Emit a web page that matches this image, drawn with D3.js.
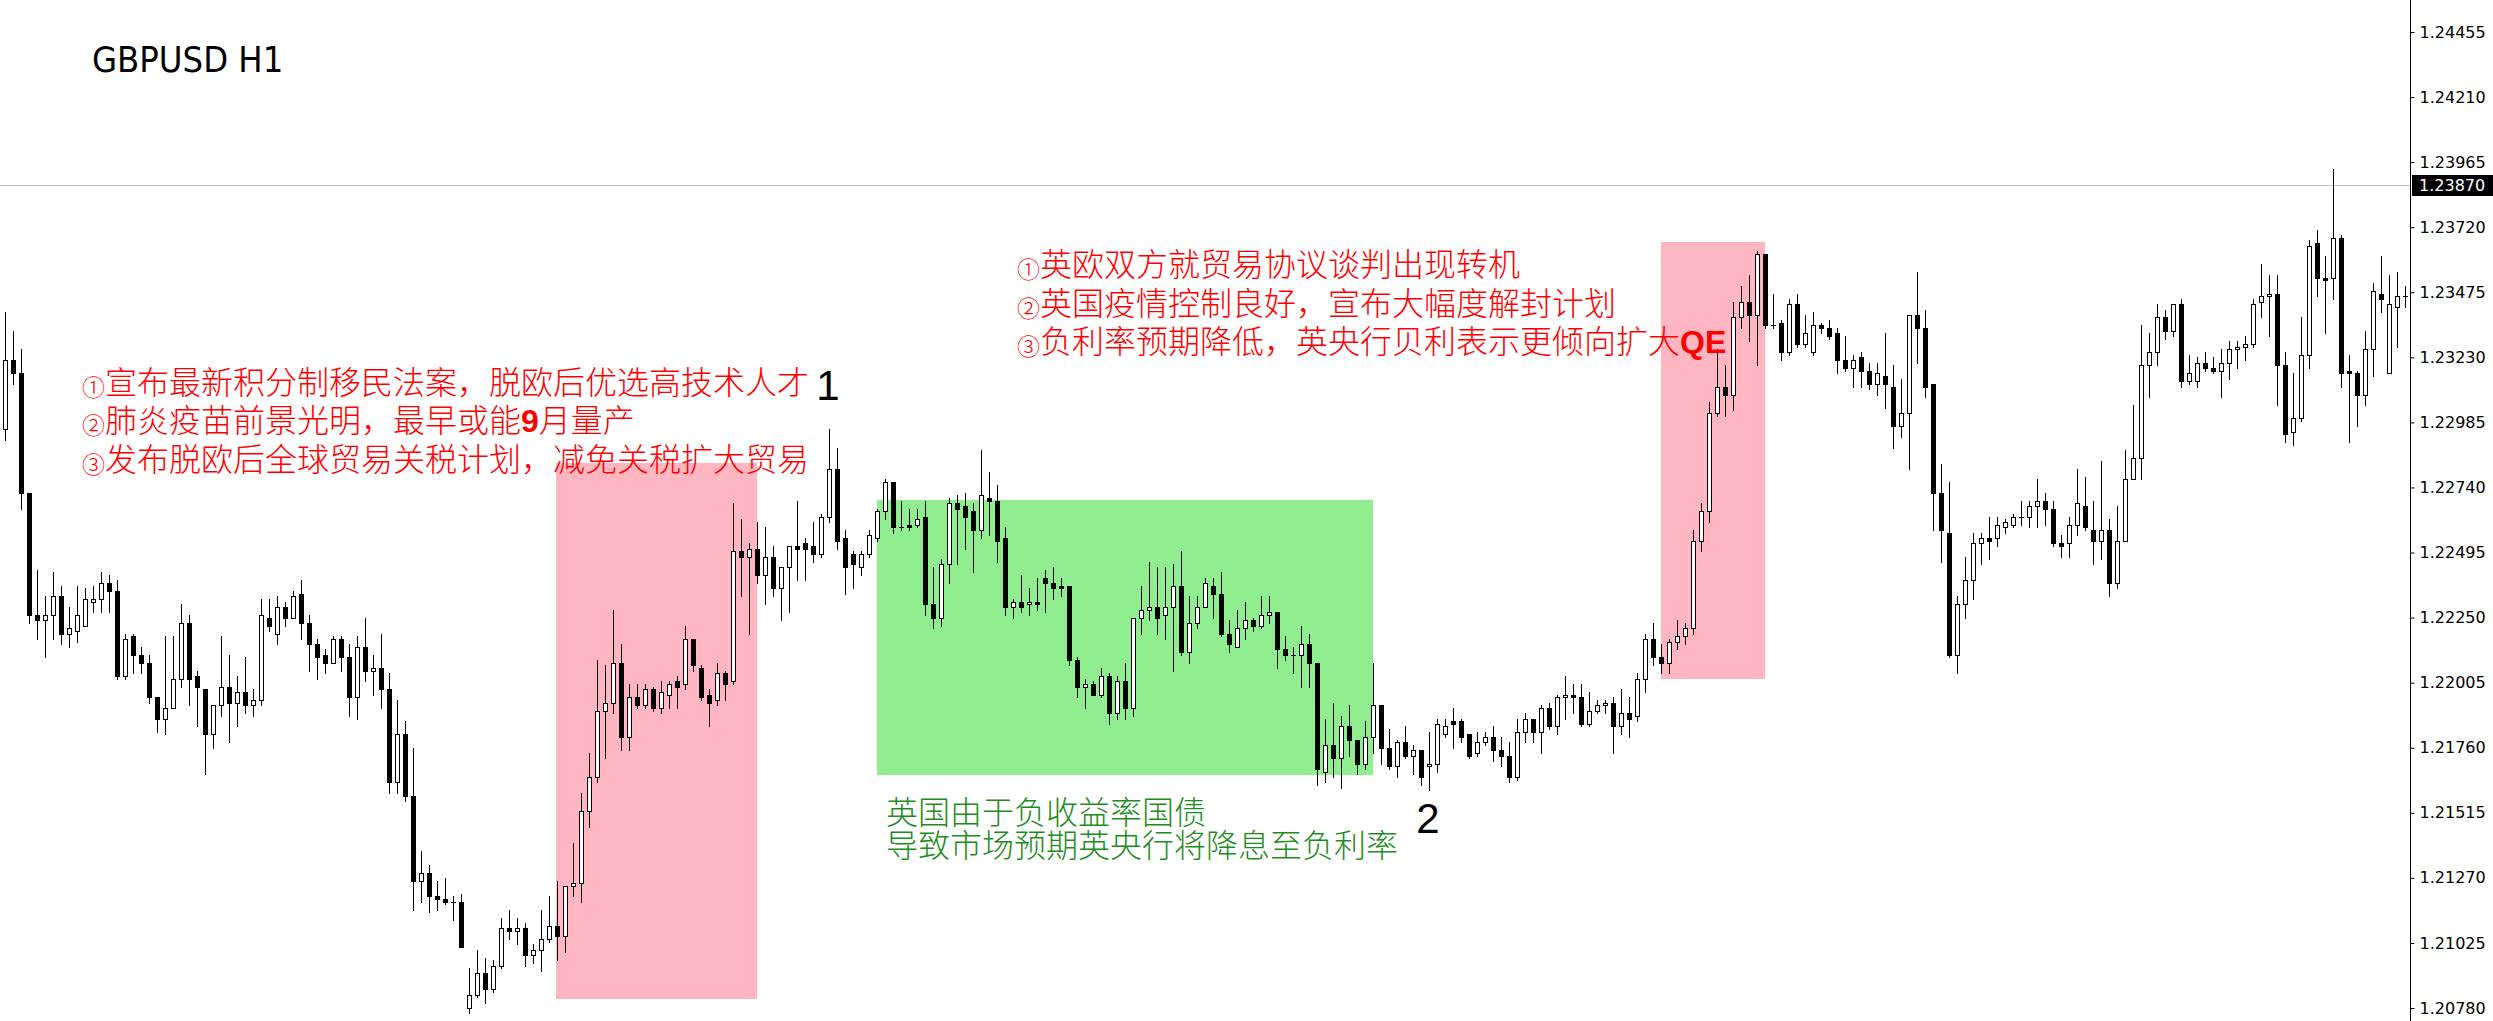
<!DOCTYPE html>
<html><head><meta charset="utf-8">
<script src="https://cdn.jsdelivr.net/npm/d3@7"></script>
<style>html,body{margin:0;padding:0;background:#fff;overflow:hidden}</style>
</head><body>
<svg id="chart" width="2493" height="1021"></svg>
<script>
// ---------- DATA (GBPUSD H1) ----------
const symbol = "GBPUSD H1";
const open = [
1.2296,1.2322,1.2317,1.2272,1.2226,1.2224,1.2226,1.2233,1.2219,1.2220,
1.2222,1.2231,1.2232,1.2238,1.2235,1.2203,1.2218,1.2211,1.2208,1.2195,
1.2187,1.2191,1.2202,1.2223,1.2203,1.2198,1.2181,1.2192,1.2199,1.2193,
1.2197,1.2192,1.2194,1.2225,1.2219,1.2229,1.2225,1.2234,1.2223,1.2215,
1.2211,1.2208,1.2217,1.2210,1.2195,1.2214,1.2205,1.2206,1.2198,1.2163,
1.2181,1.2158,1.2126,1.2129,1.2120,1.2119,1.2118,1.2118,1.2078,1.2083,
1.2091,1.2085,1.2094,1.2108,1.2107,1.2108,1.2098,1.2100,1.2104,1.2109,
1.2105,1.2124,1.2125,1.2152,1.2165,1.2190,1.2193,1.2208,1.2180,1.2195,
1.2192,1.2198,1.2191,1.2196,1.2201,1.2200,1.2217,1.2206,1.2196,1.2194,
1.2204,1.2201,1.2250,1.2248,1.2251,1.2241,1.2248,1.2236,1.2244,1.2252,
1.2253,1.2252,1.2249,1.2263,1.2281,1.2255,1.2249,1.2244,1.2249,1.2255,
1.2265,1.2276,1.2259,1.2260,1.2260,1.2263,1.2230,1.2225,1.2245,1.2268,
1.2267,1.2265,1.2258,1.2270,1.2269,1.2255,1.2229,1.2231,1.2230,1.2231,
1.2240,1.2238,1.2237,1.2237,1.2209,1.2199,1.2200,1.2196,1.2203,1.2189,
1.2201,1.2191,1.2225,1.2228,1.2229,1.2226,1.2229,1.2237,1.2212,1.2223,
1.2229,1.2237,1.2234,1.2219,1.2214,1.2221,1.2224,1.2222,1.2226,1.2227,
1.2213,1.2211,1.2211,1.2215,1.2208,1.2167,1.2177,1.2172,1.2184,1.2179,
1.2170,1.2180,1.2192,1.2176,1.2169,1.2178,1.2173,1.2175,1.2169,1.2170,
1.2181,1.2186,1.2186,1.2181,1.2174,1.2178,1.2180,1.2175,1.2173,1.2165,
1.2182,1.2187,1.2182,1.2191,1.2184,1.2195,1.2196,1.2195,1.2185,1.2190,
1.2192,1.2193,1.2184,1.2189,1.2188,1.2202,1.2217,1.2210,1.2208,1.2216,
1.2218,1.2221,1.2254,1.2265,1.2302,1.2312,1.2309,1.2338,1.2344,1.2339,
1.2362,1.2335,1.2336,1.2325,1.2343,1.2328,1.2325,1.2335,1.2334,1.2332,
1.2322,1.2319,1.2323,1.2318,1.2313,1.2316,1.2312,1.2297,1.2302,1.2339,
1.2334,1.2313,1.2272,1.2257,1.2211,1.2230,1.2239,1.2253,1.2255,1.2255,
1.2259,1.2260,1.2263,1.2263,1.2267,1.2269,1.2266,1.2253,1.2253,1.2260,
1.2267,1.2258,1.2254,1.2258,1.2238,1.2254,1.2277,1.2285,1.2320,1.2325,
1.2338,1.2333,1.2343,1.2314,1.2314,1.2321,1.2319,1.2318,1.2321,1.2326,
1.2327,1.2328,1.2344,1.2346,1.2347,1.2320,1.2295,1.2300,1.2324,1.2366,
1.2353,1.2353,1.2368,1.2318,1.2317,1.2309,1.2326,1.2347,1.2317,1.2342,
1.2346];
const high = [
1.2340,1.2333,1.2326,1.2272,1.2243,1.2233,1.2242,1.2237,1.2229,1.2237,
1.2236,1.2237,1.2242,1.2241,1.2239,1.2219,1.2219,1.2214,1.2211,1.2195,
1.2218,1.2218,1.2230,1.2226,1.2205,1.2198,1.2192,1.2218,1.2211,1.2203,
1.2210,1.2198,1.2232,1.2232,1.2233,1.2231,1.2235,1.2239,1.2226,1.2217,
1.2213,1.2218,1.2218,1.2215,1.2218,1.2225,1.2211,1.2219,1.2204,1.2194,
1.2186,1.2176,1.2137,1.2132,1.2126,1.2127,1.2120,1.2121,1.2093,1.2100,
1.2097,1.2096,1.2112,1.2115,1.2112,1.2110,1.2102,1.2115,1.2120,1.2126,
1.2124,1.2140,1.2159,1.2174,1.2209,1.2207,1.2228,1.2215,1.2200,1.2200,
1.2200,1.2199,1.2201,1.2201,1.2203,1.2222,1.2217,1.2207,1.2198,1.2208,
1.2205,1.2268,1.2262,1.2253,1.2261,1.2259,1.2252,1.2244,1.2252,1.2269,
1.2255,1.2261,1.2264,1.2296,1.2289,1.2258,1.2250,1.2250,1.2258,1.2266,
1.2277,1.2276,1.2269,1.2266,1.2266,1.2269,1.2244,1.2247,1.2270,1.2271,
1.2272,1.2268,1.2288,1.2280,1.2275,1.2259,1.2232,1.2241,1.2236,1.2240,
1.2243,1.2244,1.2240,1.2237,1.2210,1.2202,1.2201,1.2206,1.2204,1.2203,
1.2208,1.2225,1.2237,1.2246,1.2244,1.2244,1.2245,1.2250,1.2233,1.2233,
1.2240,1.2240,1.2242,1.2224,1.2228,1.2231,1.2225,1.2233,1.2233,1.2227,
1.2218,1.2214,1.2222,1.2219,1.2208,1.2187,1.2193,1.2188,1.2192,1.2179,
1.2186,1.2208,1.2192,1.2183,1.2179,1.2184,1.2177,1.2175,1.2182,1.2187,
1.2187,1.2191,1.2187,1.2181,1.2182,1.2182,1.2184,1.2180,1.2178,1.2187,
1.2189,1.2187,1.2192,1.2193,1.2196,1.2203,1.2200,1.2200,1.2197,1.2194,
1.2194,1.2195,1.2198,1.2195,1.2204,1.2219,1.2223,1.2215,1.2217,1.2224,
1.2223,1.2258,1.2268,1.2306,1.2326,1.2320,1.2344,1.2350,1.2354,1.2363,
1.2362,1.2347,1.2337,1.2345,1.2347,1.2339,1.2340,1.2336,1.2337,1.2334,
1.2331,1.2324,1.2325,1.2321,1.2321,1.2332,1.2320,1.2315,1.2339,1.2355,
1.2341,1.2313,1.2283,1.2276,1.2233,1.2248,1.2257,1.2257,1.2263,1.2263,
1.2262,1.2264,1.2269,1.2269,1.2277,1.2272,1.2269,1.2256,1.2263,1.2281,
1.2278,1.2269,1.2284,1.2262,1.2267,1.2288,1.2305,1.2335,1.2332,1.2343,
1.2341,1.2343,1.2345,1.2324,1.2323,1.2325,1.2323,1.2326,1.2329,1.2329,
1.2331,1.2345,1.2358,1.2354,1.2354,1.2325,1.2317,1.2338,1.2367,1.2371,
1.2361,1.2394,1.2369,1.2324,1.2318,1.2333,1.2351,1.2361,1.2354,1.2355,
1.2350];
const low = [
1.2292,1.2313,1.2266,1.2223,1.2217,1.2210,1.2217,1.2215,1.2214,1.2216,
1.2222,1.2227,1.2227,1.2227,1.2202,1.2202,1.2204,1.2204,1.2193,1.2182,
1.2181,1.2191,1.2199,1.2192,1.2184,1.2166,1.2176,1.2188,1.2178,1.2184,
1.2189,1.2188,1.2192,1.2220,1.2215,1.2222,1.2225,1.2217,1.2205,1.2202,
1.2204,1.2208,1.2205,1.2188,1.2187,1.2201,1.2196,1.2191,1.2159,1.2159,
1.2156,1.2115,1.2118,1.2114,1.2115,1.2117,1.2111,1.2101,1.2076,1.2082,
1.2080,1.2084,1.2093,1.2104,1.2102,1.2094,1.2095,1.2092,1.2103,1.2096,
1.2099,1.2120,1.2118,1.2146,1.2163,1.2172,1.2189,1.2175,1.2175,1.2191,
1.2191,1.2190,1.2189,1.2191,1.2191,1.2198,1.2205,1.2194,1.2184,1.2192,
1.2194,1.2200,1.2233,1.2219,1.2238,1.2230,1.2233,1.2224,1.2227,1.2239,
1.2239,1.2246,1.2248,1.2261,1.2251,1.2234,1.2236,1.2241,1.2248,1.2254,
1.2262,1.2257,1.2258,1.2258,1.2259,1.2226,1.2221,1.2222,1.2238,1.2245,
1.2251,1.2242,1.2255,1.2256,1.2246,1.2226,1.2225,1.2227,1.2226,1.2228,
1.2227,1.2232,1.2233,1.2207,1.2195,1.2191,1.2196,1.2195,1.2185,1.2187,
1.2187,1.2188,1.2219,1.2224,1.2219,1.2217,1.2205,1.2211,1.2208,1.2221,
1.2229,1.2225,1.2218,1.2212,1.2214,1.2217,1.2220,1.2221,1.2223,1.2206,
1.2209,1.2204,1.2199,1.2199,1.2162,1.2163,1.2165,1.2161,1.2173,1.2166,
1.2168,1.2174,1.2170,1.2168,1.2165,1.2172,1.2166,1.2162,1.2160,1.2167,
1.2180,1.2176,1.2178,1.2172,1.2173,1.2177,1.2171,1.2169,1.2163,1.2164,
1.2178,1.2178,1.2174,1.2183,1.2181,1.2187,1.2189,1.2184,1.2184,1.2189,
1.2189,1.2174,1.2181,1.2180,1.2186,1.2197,1.2207,1.2204,1.2204,1.2213,
1.2215,1.2219,1.2250,1.2261,1.2301,1.2301,1.2303,1.2334,1.2329,1.2320,
1.2334,1.2334,1.2322,1.2324,1.2327,1.2327,1.2324,1.2332,1.2330,1.2317,
1.2318,1.2312,1.2312,1.2311,1.2309,1.2304,1.2289,1.2293,1.2281,1.2321,
1.2308,1.2258,1.2246,1.2210,1.2204,1.2225,1.2232,1.2245,1.2247,1.2252,
1.2257,1.2259,1.2260,1.2259,1.2259,1.2260,1.2252,1.2248,1.2248,1.2256,
1.2258,1.2245,1.2247,1.2233,1.2236,1.2254,1.2277,1.2277,1.2308,1.2320,
1.2330,1.2331,1.2312,1.2313,1.2312,1.2318,1.2317,1.2308,1.2315,1.2319,
1.2322,1.2327,1.2338,1.2331,1.2305,1.2291,1.2290,1.2299,1.2319,1.2346,
1.2332,1.2345,1.2312,1.2291,1.2297,1.2305,1.2316,1.2340,1.2317,1.2327,
1.2342];
const close = [
1.2322,1.2317,1.2272,1.2226,1.2224,1.2226,1.2233,1.2219,1.2221,1.2226,
1.2232,1.2232,1.2238,1.2235,1.2203,1.2217,1.2211,1.2208,1.2195,1.2187,
1.2191,1.2202,1.2223,1.2202,1.2199,1.2181,1.2192,1.2199,1.2193,1.2197,
1.2192,1.2194,1.2226,1.2222,1.2229,1.2225,1.2233,1.2223,1.2215,1.2210,
1.2208,1.2217,1.2210,1.2195,1.2214,1.2205,1.2206,1.2198,1.2163,1.2181,
1.2158,1.2126,1.2129,1.2120,1.2119,1.2118,1.2118,1.2101,1.2083,1.2091,
1.2085,1.2094,1.2108,1.2107,1.2108,1.2098,1.2100,1.2104,1.2109,1.2105,
1.2124,1.2125,1.2152,1.2165,1.2190,1.2193,1.2208,1.2180,1.2195,1.2192,
1.2198,1.2191,1.2197,1.2200,1.2199,1.2217,1.2207,1.2195,1.2193,1.2204,
1.2200,1.2250,1.2248,1.2251,1.2241,1.2248,1.2236,1.2244,1.2252,1.2251,
1.2251,1.2249,1.2263,1.2281,1.2254,1.2244,1.2245,1.2249,1.2256,1.2265,
1.2276,1.2259,1.2259,1.2259,1.2262,1.2230,1.2225,1.2245,1.2268,1.2266,
1.2263,1.2258,1.2271,1.2269,1.2254,1.2229,1.2231,1.2229,1.2231,1.2230,
1.2238,1.2236,1.2236,1.2209,1.2199,1.2200,1.2196,1.2203,1.2189,1.2201,
1.2191,1.2225,1.2228,1.2229,1.2225,1.2229,1.2237,1.2212,1.2223,1.2229,
1.2238,1.2234,1.2219,1.2215,1.2221,1.2224,1.2222,1.2226,1.2227,1.2213,
1.2211,1.2211,1.2215,1.2208,1.2168,1.2177,1.2172,1.2184,1.2179,1.2170,
1.2180,1.2192,1.2176,1.2169,1.2178,1.2173,1.2175,1.2165,1.2170,1.2185,
1.2184,1.2185,1.2180,1.2173,1.2178,1.2180,1.2175,1.2173,1.2165,1.2182,
1.2187,1.2182,1.2191,1.2184,1.2195,1.2196,1.2195,1.2185,1.2190,1.2192,
1.2193,1.2184,1.2189,1.2187,1.2202,1.2217,1.2210,1.2208,1.2216,1.2218,
1.2221,1.2254,1.2265,1.2302,1.2312,1.2309,1.2338,1.2344,1.2339,1.2362,
1.2335,1.2335,1.2325,1.2343,1.2328,1.2332,1.2335,1.2334,1.2331,1.2322,
1.2319,1.2322,1.2318,1.2313,1.2317,1.2313,1.2297,1.2302,1.2339,1.2334,
1.2312,1.2272,1.2258,1.2211,1.2230,1.2239,1.2253,1.2255,1.2254,1.2260,
1.2261,1.2263,1.2263,1.2267,1.2269,1.2266,1.2253,1.2252,1.2260,1.2268,
1.2259,1.2254,1.2258,1.2238,1.2254,1.2277,1.2285,1.2320,1.2325,1.2338,
1.2333,1.2343,1.2314,1.2317,1.2321,1.2319,1.2318,1.2321,1.2326,1.2327,
1.2328,1.2343,1.2346,1.2347,1.2320,1.2294,1.2300,1.2324,1.2365,1.2353,
1.2352,1.2368,1.2317,1.2317,1.2309,1.2326,1.2348,1.2345,1.2343,1.2346,
1.2346];
const yTickLabels = ["1.24455","1.24210","1.23965","1.23720","1.23475","1.23230","1.22985",
  "1.22740","1.22495","1.22250","1.22005","1.21760","1.21515","1.21270","1.21025","1.20780"];
const currentPrice = "1.23870";
// highlighted zones: bar-index range and price range
const zoneFrom   = [68.85, 108.95, 206.95];
const zoneTo     = [93.95, 170.95, 219.95];
const zoneTop    = [1.22834, 1.22691, 1.23664];
const zoneBottom = [1.20814, 1.21659, 1.22017];
const zoneKind   = ["up", "down", "up"];
// annotation lines: [circled number, text, bold latin part, text after]
const note1 = [
  ["①", "宣布最新积分制移民法案，脱欧后优选高技术人才", "", ""],
  ["②", "肺炎疫苗前景光明，最早或能", "9", "月量产"],
  ["③", "发布脱欧后全球贸易关税计划，减免关税扩大贸易", "", ""]];
const note2 = [
  ["①", "英欧双方就贸易协议谈判出现转机", "", ""],
  ["②", "英国疫情控制良好，宣布大幅度解封计划", "", ""],
  ["③", "负利率预期降低，英央行贝利表示更倾向扩大", "QE", ""]];
const note3 = [
  ["", "英国由于负收益率国债", "", ""],
  ["", "导致市场预期英央行将降息至负利率", "", ""]];
const marks = ["1", "2"];

// ---------- DRAW ----------
const svg = d3.select("#chart");
const W = 2493, H = 1021, axisX = 2410;
const n = open.length;
const x = d3.scaleLinear().domain([0, n - 1]).range([5.33, 5.33 + 8 * (n - 1)]);
const yVals = yTickLabels.map(Number);
const y = d3.scaleLinear().domain([d3.min(yVals), d3.max(yVals)]).range([1008, 32]);

svg.append("rect").attr("width", W).attr("height", H).attr("fill", "#fff");

// zones
const zoneColor = {up: "#ffb6c1", down: "#90ee90"};
svg.append("g").selectAll("rect").data(d3.range(zoneFrom.length)).join("rect")
  .attr("x", i => Math.round(x(zoneFrom[i])))
  .attr("width", i => Math.round(x(zoneTo[i])) - Math.round(x(zoneFrom[i])))
  .attr("y", i => Math.round(y(zoneTop[i])))
  .attr("height", i => Math.round(y(zoneBottom[i])) - Math.round(y(zoneTop[i])))
  .attr("fill", i => zoneColor[zoneKind[i]]);

// current price line
const cpY = Math.round(y(+currentPrice)) - 1.5;
svg.append("line").attr("x1", 0).attr("x2", axisX).attr("y1", cpY).attr("y2", cpY)
  .attr("stroke", "#c0c0c0").attr("stroke-width", 1);

// candles
const cg = svg.append("g").attr("shape-rendering", "crispEdges");
const idx = d3.range(n);
cg.selectAll("line.w").data(idx).join("line").attr("class", "w")
  .attr("x1", i => Math.round(x(i)) + 0.5).attr("x2", i => Math.round(x(i)) + 0.5)
  .attr("y1", i => Math.round(y(high[i]))).attr("y2", i => Math.round(y(low[i])) + 1)
  .attr("stroke", "#000").attr("stroke-width", 1);
function bodyTop(i) { return Math.round(y(Math.max(open[i], close[i]))); }
function bodyH(i) { return Math.max(1, Math.round(y(Math.min(open[i], close[i]))) - bodyTop(i) + 1); }
cg.selectAll("rect.b").data(idx).join("rect").attr("class", "b")
  .attr("x", i => Math.round(x(i)) - 2).attr("width", 5)
  .attr("y", bodyTop).attr("height", bodyH).attr("fill", "#000");
cg.selectAll("rect.i").data(idx.filter(i => close[i] > open[i] && bodyH(i) > 2)).join("rect").attr("class", "i")
  .attr("x", i => Math.round(x(i)) - 1).attr("width", 3)
  .attr("y", i => bodyTop(i) + 1).attr("height", i => bodyH(i) - 2).attr("fill", "#fff");

// axis
svg.append("line").attr("x1", axisX + 0.5).attr("x2", axisX + 0.5).attr("y1", 0).attr("y2", H)
  .attr("stroke", "#000").attr("stroke-width", 1);
const axis = d3.axisRight(y).tickValues(yVals).tickFormat((d, i) => yTickLabels[i]).tickSize(4).tickPadding(5);
const ag = svg.append("g").attr("transform", `translate(${axisX + 0.5},0)`).call(axis);
ag.select(".domain").remove();
ag.selectAll("text").attr("font-family", "DejaVu Sans, Verdana, sans-serif").attr("font-size", 16).attr("fill", "#000");
ag.selectAll("line").attr("stroke", "#000");

// current price label
svg.append("rect").attr("x", axisX + 2).attr("y", cpY - 10.5).attr("width", W - axisX - 2).attr("height", 21).attr("fill", "#000");
svg.append("text").attr("x", axisX + 9).attr("y", cpY).attr("dy", "0.35em")
  .attr("font-family", "DejaVu Sans, Verdana, sans-serif").attr("font-size", 16).attr("fill", "#fff").text(currentPrice);

// title
svg.append("text").attr("x", 92).attr("y", 72).attr("font-family", "DejaVu Sans Condensed, DejaVu Sans, sans-serif")
  .attr("font-stretch", "condensed").attr("font-size", 36).attr("fill", "#000").text(symbol);

// annotations
const cjk = "'Noto Sans CJK SC', sans-serif";
function noteBlock(lines, x0, yCenters, color) {
  lines.forEach((ln, k) => {
    const t = svg.append("text").attr("x", x0).attr("y", yCenters[k] + 11)
      .attr("font-family", cjk).attr("font-weight", 300).attr("font-size", 32).attr("fill", color);
    if (ln[0]) t.append("tspan").attr("font-size", 23).attr("dy", 2).text(ln[0]);
    t.append("tspan").attr("dy", ln[0] ? -2 : 0).text(ln[1]);
    if (ln[2]) t.append("tspan").attr("font-family", "Liberation Sans, Arial, sans-serif").attr("font-weight", "bold").text(ln[2]);
    if (ln[3]) t.append("tspan").text(ln[3]);
  });
}
noteBlock(note1, 82, [383, 421, 460], "#ff0000");
noteBlock(note2, 1017, [265, 304, 342], "#ff0000");
noteBlock(note3, 886, [813, 846], "#1e8c1e");

svg.append("text").attr("x", 828).attr("y", 400).attr("text-anchor", "middle")
  .attr("font-family", "Liberation Sans, Arial, sans-serif").attr("font-size", 42).attr("fill", "#000").text(marks[0]);
svg.append("text").attr("x", 1428).attr("y", 833).attr("text-anchor", "middle")
  .attr("font-family", "Liberation Sans, Arial, sans-serif").attr("font-size", 42).attr("fill", "#000").text(marks[1]);
</script>
</body></html>
